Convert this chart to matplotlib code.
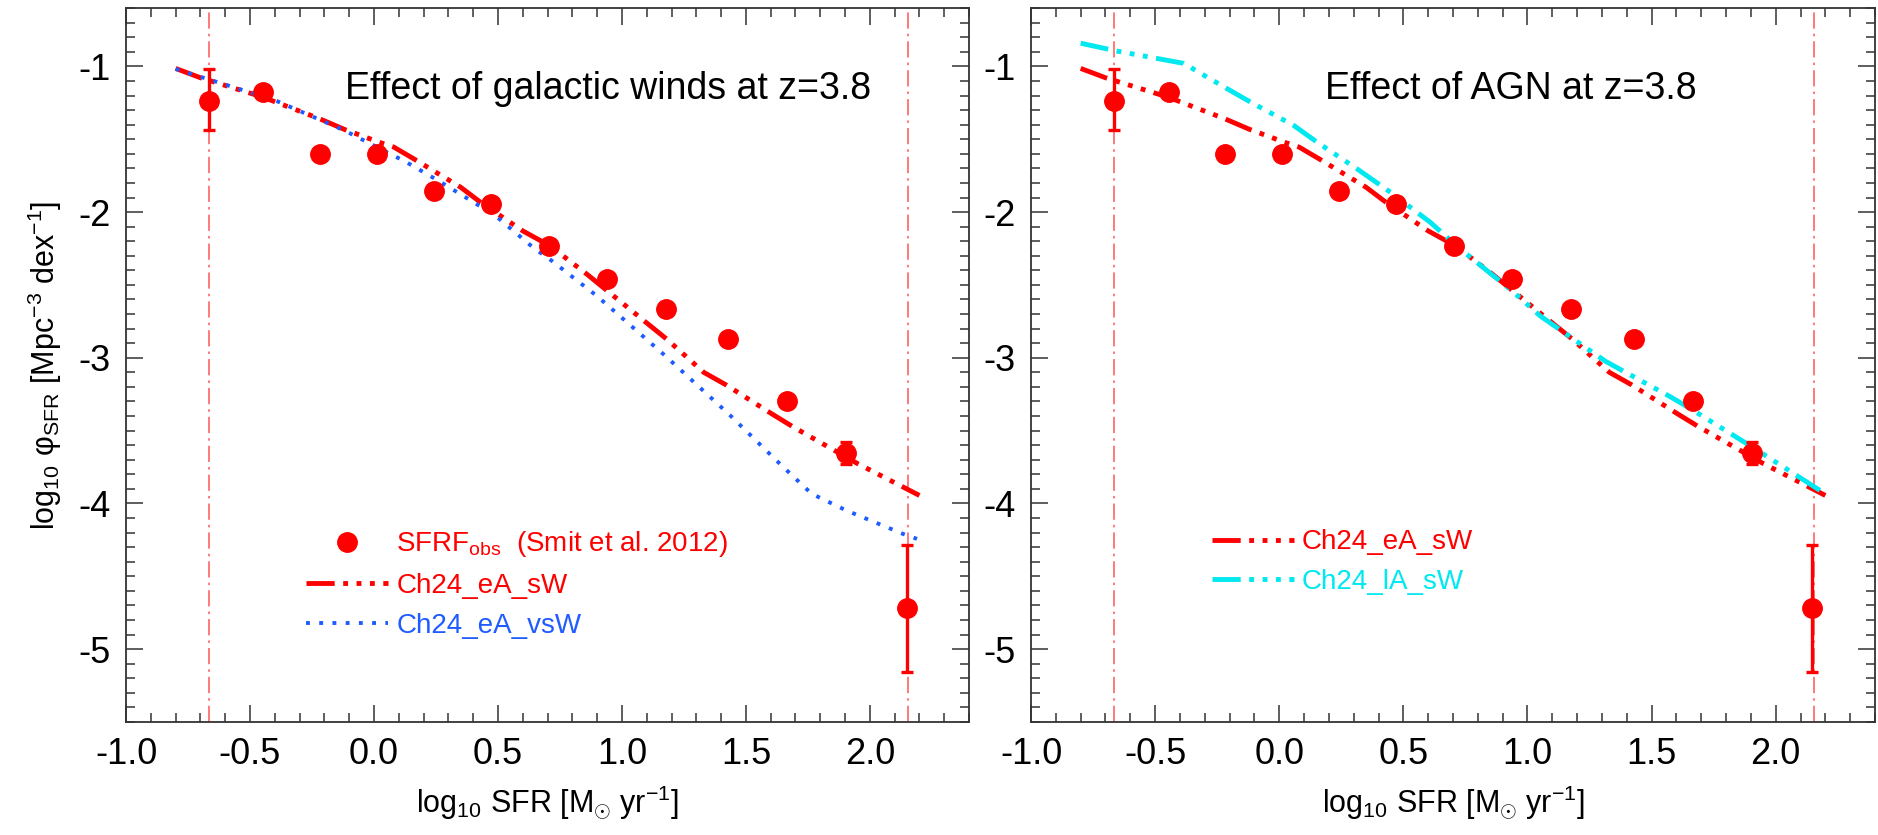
import matplotlib
matplotlib.use("Agg")
import matplotlib.pyplot as plt
from matplotlib.lines import Line2D
from matplotlib.ticker import MultipleLocator

# Observed SFRF (Smit et al. 2012), log10 SFR vs log10 phi
obs_x = [-0.664, -0.446, -0.217, 0.012, 0.242, 0.470, 0.705, 0.938, 1.177, 1.429, 1.666, 1.903, 2.148]
obs_y = [-1.237, -1.175, -1.603, -1.600, -1.853, -1.945, -2.232, -2.462, -2.664, -2.871, -3.297, -3.653, -4.715]
obs_err_lo = [0.20, 0.03, 0.03, 0.03, 0.03, 0.03, 0.03, 0.03, 0.03, 0.03, 0.03, 0.075, 0.44]
obs_err_hi = [0.22, 0.03, 0.03, 0.03, 0.03, 0.03, 0.03, 0.03, 0.03, 0.03, 0.03, 0.075, 0.43]

# Ch24_eA_sW model
sw_x = [-0.80, -0.70, -0.45, -0.22, -0.12, 0.02, 0.08, 0.16, 0.35, 0.43, 0.60, 0.71,
        0.86, 1.10, 1.18, 1.33, 1.42, 1.60, 1.69, 1.95, 2.20]
sw_y = [-1.014, -1.078, -1.21, -1.359, -1.432, -1.52, -1.554, -1.634, -1.83, -1.933, -2.129, -2.232,
        -2.428, -2.761, -2.871, -3.10, -3.186, -3.38, -3.474, -3.726, -3.945]

# Ch24_eA_vsW model
vsw_x = [-0.80, -0.40, -0.12, 0.13, 0.27, 0.49, 0.65, 0.70, 0.90, 1.17, 1.435, 1.65, 1.765, 1.905, 2.134, 2.19]
vsw_y = [-1.018, -1.232, -1.439, -1.657, -1.795, -2.025, -2.255, -2.312, -2.577, -2.979, -3.393, -3.749,
         -3.933, -4.048, -4.209, -4.243]

# Ch24_lA_sW model
la_x = [-0.80, -0.654, -0.386, -0.211, -0.117, 0.058, 0.152, 0.313, 0.448, 0.609, 0.73, 0.931,
        1.053, 1.315, 1.575, 1.666, 1.915, 2.199]
la_y = [-0.841, -0.895, -0.979, -1.152, -1.244, -1.405, -1.52, -1.703, -1.864, -2.071, -2.255, -2.531,
        -2.715, -3.025, -3.267, -3.359, -3.623, -3.933]

# completeness limits
sfr_limits = [-0.664, 2.155]

plt.rcParams["font.family"] = ["Liberation Sans", "DejaVu Sans"]
plt.rcParams["mathtext.fontset"] = "custom"
plt.rcParams["mathtext.rm"] = "Liberation Sans"
plt.rcParams["mathtext.it"] = "Liberation Sans:italic"
plt.rcParams["axes.unicode_minus"] = False

DASH3DOT = (0, (5.8, 1.75, 1, 1.75, 1, 1.75, 1, 1.75))
DOTTED = (0, (1, 2.4))
VLINE = (0, (9, 2.8, 1.4, 2.8))
BLUE = "#1f5cff"
CYAN = "#00e8f0"


def setup_axes(ax):
    ax.set_xlim(-1.0, 2.4)
    ax.set_ylim(-5.5, -0.6)
    ax.xaxis.set_major_locator(MultipleLocator(0.5))
    ax.xaxis.set_minor_locator(MultipleLocator(0.1))
    ax.yaxis.set_major_locator(MultipleLocator(1))
    ax.yaxis.set_minor_locator(MultipleLocator(0.1))
    ax.tick_params(which="both", direction="in", top=True, right=True,
                   width=1.1, color="#333333", labelsize=26, pad=11)
    ax.tick_params(which="major", length=12)
    ax.tick_params(which="minor", length=6.5)
    for s in ax.spines.values():
        s.set_linewidth(1.3)
        s.set_color("#333333")
    ax.set_xlabel(r"log$_{10}$ SFR [M$_{\odot}$ yr$^{-1}$]", fontsize=22, labelpad=8)
    for xv in sfr_limits:
        ax.axvline(xv, color="#ff7070", lw=1.3, ls=VLINE, zorder=1)
    ax.errorbar(obs_x, obs_y, yerr=[obs_err_lo, obs_err_hi], fmt="o", color="red",
                ms=14, elinewidth=2.4, capsize=4, capthick=2.4, zorder=3)


def main():
    fig = plt.figure(figsize=(18.78, 8.35), dpi=100)
    ax1 = fig.add_axes([0.0671, 0.1353, 0.4489, 0.855])
    ax2 = fig.add_axes([0.549, 0.1353, 0.4494, 0.855])

    # left panel: galactic winds
    setup_axes(ax1)
    ax1.plot(sw_x, sw_y, color="red", lw=3.5, ls=DASH3DOT, zorder=2)
    ax1.plot(vsw_x, vsw_y, color=BLUE, lw=2.8, ls=DOTTED, zorder=2)
    ax1.set_ylabel(r"log$_{10}$ φ$_{\rm SFR}$ [Mpc$^{-3}$ dex$^{-1}$]", fontsize=22, labelpad=10)
    ax1.text(0.26, 0.8725, "Effect of galactic winds at z=3.8", transform=ax1.transAxes,
             fontsize=27, va="baseline")
    h1 = [Line2D([], [], ls="none", marker="o", ms=14, color="red"),
          Line2D([], [], color="red", lw=3.5, ls=DASH3DOT),
          Line2D([], [], color=BLUE, lw=2.8, ls=DOTTED)]
    l1 = [r"SFRF$_{\rm obs}$  (Smit et al. 2012)", "Ch24_eA_sW", "Ch24_eA_vsW"]
    ax1.legend(h1, l1, loc="upper left", bbox_to_anchor=(0.2135, 0.27), frameon=False,
               fontsize=20, handlelength=2.95, handletextpad=0.3, labelspacing=0.5,
               borderpad=0, borderaxespad=0, numpoints=1, labelcolor="linecolor")

    # right panel: AGN
    setup_axes(ax2)
    ax2.plot(sw_x, sw_y, color="red", lw=3.5, ls=DASH3DOT, zorder=2)
    ax2.plot(la_x, la_y, color=CYAN, lw=3.5, ls=DASH3DOT, zorder=2)
    ax2.text(0.348, 0.8725, "Effect of AGN at z=3.8", transform=ax2.transAxes,
             fontsize=27, va="baseline")
    h2 = [Line2D([], [], color="red", lw=3.5, ls=DASH3DOT),
          Line2D([], [], color=CYAN, lw=3.5, ls=DASH3DOT)]
    l2 = ["Ch24_eA_sW", "Ch24_lA_sW"]
    ax2.legend(h2, l2, loc="upper left", bbox_to_anchor=(0.214, 0.27), frameon=False,
               fontsize=20, handlelength=2.95, handletextpad=0.3, labelspacing=0.5,
               borderpad=0, borderaxespad=0, labelcolor="linecolor")

    fig.savefig("out.png", dpi=100)


if __name__ == "__main__":
    main()
